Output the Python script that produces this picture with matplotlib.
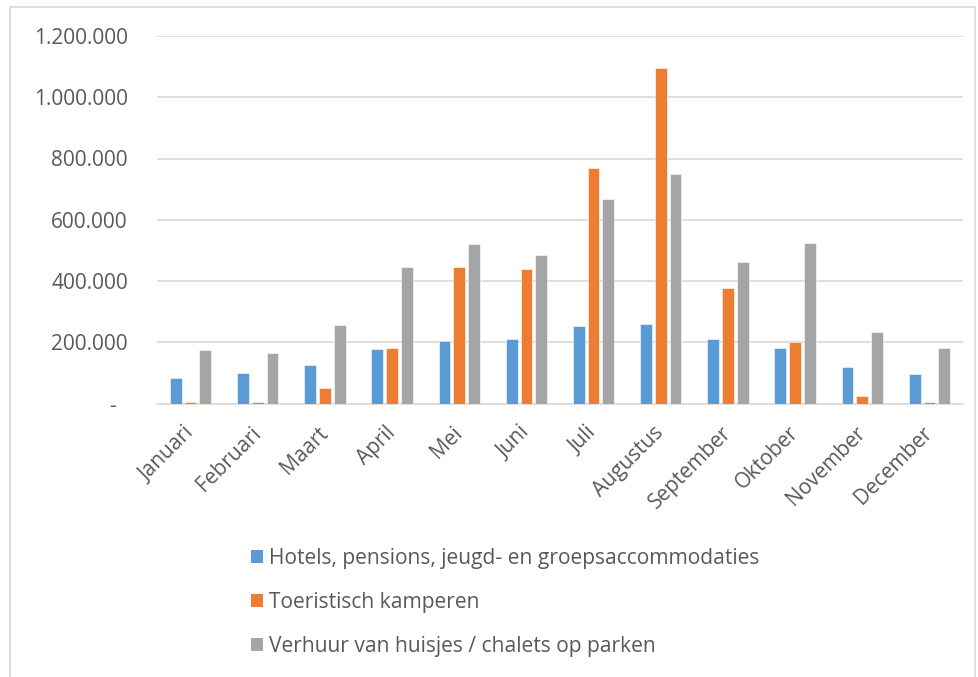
import matplotlib
matplotlib.use("Agg")
import matplotlib.pyplot as plt
from matplotlib.patches import Rectangle, Patch
from matplotlib.ticker import FuncFormatter
import numpy as np

plt.rcParams['font.family'] = ['Open Sans', 'DejaVu Sans']

months = ["Januari", "Februari", "Maart", "April", "Mei", "Juni", "Juli",
          "Augustus", "September", "Oktober", "November", "December"]
series_names = ["Hotels, pensions, jeugd- en groepsaccommodaties",
                "Toeristisch kamperen",
                "Verhuur van huisjes / chalets op parken"]
hotels = [82700, 98000, 124200, 177500, 203600, 210100, 252600, 258200, 211100, 180700, 118600, 94800]
kamperen = [5000, 5000, 51000, 180700, 445400, 438900, 768000, 1095000, 377800, 200300, 24000, 5000]
huisjes = [174000, 163400, 255000, 446400, 519600, 483700, 668600, 750300, 460800, 524800, 233000, 181700]
yticks = [0, 200000, 400000, 600000, 800000, 1000000, 1200000]
colors = ["#5b9bd5", "#ed7d31", "#a5a5a5"]

W, H = 979, 677
fig = plt.figure(figsize=(W / 100, H / 100), dpi=100)
ax = fig.add_axes([157 / W, 1 - 403.5 / H, (963 - 157) / W, (403.5 - 36) / H])

x = np.arange(len(months))
bw = 0.175
off = 0.22
for i, (vals, c) in enumerate(zip([hotels, kamperen, huisjes], colors)):
    ax.bar(x + (i - 1) * off, vals, width=bw, color=c, zorder=3,
           edgecolor='white', linewidth=0.4, label=series_names[i])

ax.set_xlim(-0.5, len(months) - 0.5)
ax.set_ylim(0, 1200000)
ax.set_yticks(yticks)

def fmt(v, pos):
    if v == 0:
        return "-  "
    return f"{int(v):,}".replace(",", ".")

ax.yaxis.set_major_formatter(FuncFormatter(fmt))
ax.grid(axis='y', color='#d9d9d9', linewidth=1.2, zorder=0)
for s in ['top', 'right', 'left']:
    ax.spines[s].set_visible(False)
ax.spines['bottom'].set_color('#d9d9d9')
ax.spines['bottom'].set_linewidth(1.2)
ax.tick_params(axis='both', length=0, colors='#595959', labelsize=15)
ax.tick_params(axis='y', pad=21)
ax.set_xticks(x)
ax.set_xticklabels(months, rotation=45, ha='right', va='center', rotation_mode='anchor')
for lbl in ax.get_xticklabels():
    lbl.set_color('#595959')
ax.tick_params(axis='x', pad=19)

handles = [Patch(facecolor=c, edgecolor='none') for c in colors]
leg = fig.legend(handles, series_names, loc='upper left',
                 bbox_to_anchor=(234 / W, 1 - 531 / H), frameon=False,
                 fontsize=15.1, labelcolor='#595959', handlelength=0.6,
                 handleheight=0.6, handletextpad=0.25, labelspacing=1.1,
                 borderpad=0.3)

fig.patches.append(Rectangle((10 / W, -0.01), (975 - 10) / W, 1 - 7 / H + 0.01,
                             transform=fig.transFigure, fill=False,
                             edgecolor='#d9d9d9', linewidth=1.2))

fig.savefig("out.png", dpi=100)
